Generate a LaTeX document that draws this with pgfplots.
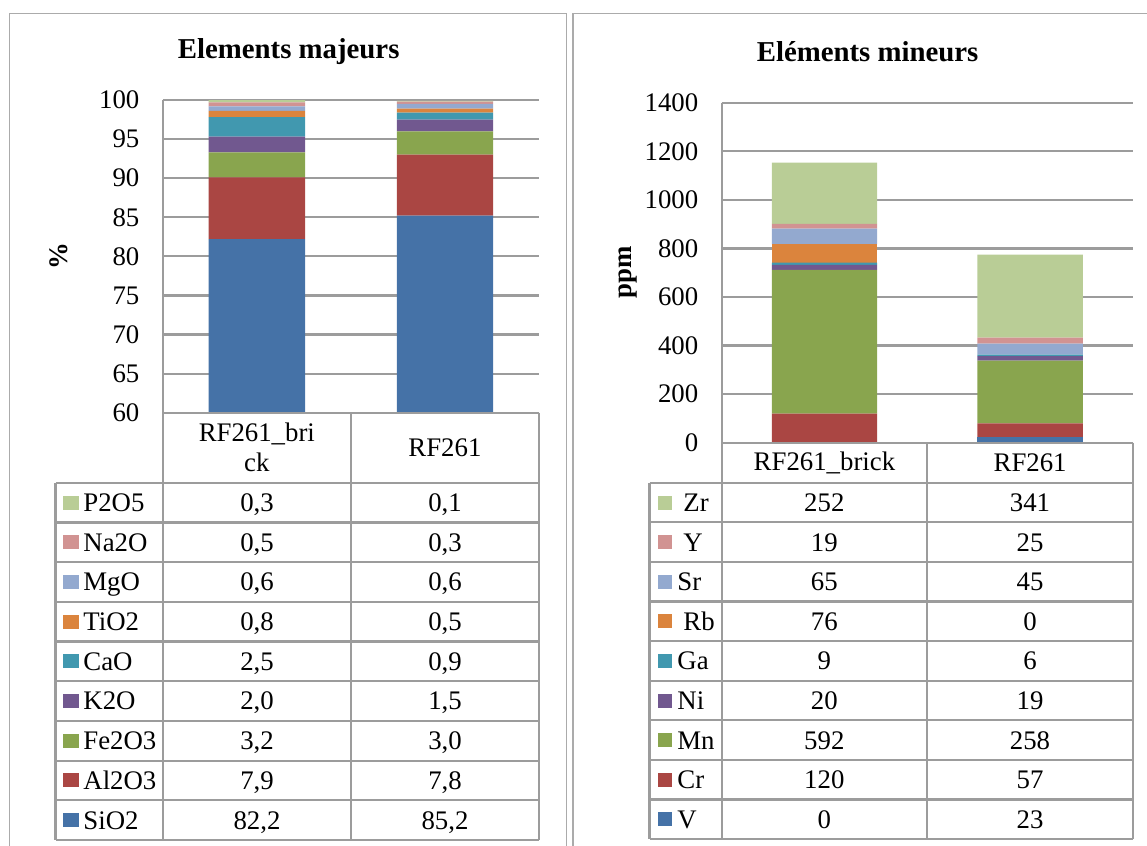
\documentclass[border=0pt]{standalone}
\usepackage{fontspec}
\setmainfont{Liberation Serif}
\usepackage{pgfplots}
\usepackage{pgfplotstable}
\pgfplotsset{compat=1.18}

% Excel 2007 series colours
\definecolor{s1}{HTML}{4572A7}
\definecolor{s2}{HTML}{AA4643}
\definecolor{s3}{HTML}{89A54E}
\definecolor{s4}{HTML}{71588F}
\definecolor{s5}{HTML}{4198AF}
\definecolor{s6}{HTML}{DB843D}
\definecolor{s7}{HTML}{93A9CF}
\definecolor{s8}{HTML}{D19392}
\definecolor{s9}{HTML}{B9CD96}
\definecolor{linegray}{HTML}{9C9C9C}

\pgfplotstableread{
x SiO2 Al2O3 Fe2O3 K2O CaO TiO2 MgO Na2O P2O5
0 82.2 7.9 3.2 2.0 2.5 0.8 0.6 0.5 0.3
1 85.2 7.8 3.0 1.5 0.9 0.5 0.6 0.3 0.1
}\majeurs

\pgfplotstableread{
x V Cr Mn Ni Ga Rb Sr Y Zr
0 0 120 592 20 9 76 65 19 252
1 23 57 258 19 6 0 45 25 341
}\mineurs

\pgfplotsset{panel/.style={
    scale only axis, anchor=south west,
    ybar stacked, bar width=0.512,
    xmin=-0.5, xmax=1.5, xtick={0,1},
    enlargelimits=false,
    axis x line*=bottom, axis y line*=left,
    axis line style={-, linegray, line width=1.1pt},
    ymajorgrids, grid style={linegray, line width=1.1pt},
    major tick length=0pt,
    tick label style={font=\fontsize{13.4}{15}\selectfont},
    yticklabel style={anchor=east, inner sep=0pt, xshift=-11.5pt},
    xticklabel style={anchor=center, align=center, inner sep=0pt},
    /pgf/number format/assume math mode=true,
    /pgf/number format/1000 sep={},
    ylabel style={font=\fontsize{13.4}{15}\selectfont\bfseries, anchor=center},
  }}

% table row helpers: index, colour, name, value 1, value 2
\newcommand{\majrow}[5]{%
  \fill[#2] (63,{482.7+39.7*(#1+0.5)-7}) rectangle ++(15.5,14);
  \node[anchor=base west] at (83,{482.7+39.7*(#1+0.5)+8.9}) {#3};
  \node[anchor=base] at (257,{482.7+39.7*(#1+0.5)+8.9}) {#4};
  \node[anchor=base] at (445,{482.7+39.7*(#1+0.5)+8.9}) {#5};}
\newcommand{\minrow}[6]{% index, colour, name offset, name, v1, v2
  \fill[#2] (658,{482.7+39.6*(#1+0.5)-7}) rectangle ++(14,14);
  \node[anchor=base west] at ({677+#3},{482.7+39.6*(#1+0.5)+8.9}) {#4};
  \node[anchor=base] at (824.3,{482.7+39.6*(#1+0.5)+8.9}) {#5};
  \node[anchor=base] at (1030,{482.7+39.6*(#1+0.5)+8.9}) {#6};}

\begin{document}
\begin{tikzpicture}
\useasboundingbox (0,0) rectangle (573.5pt,-423pt);

% Elements majeurs
\begin{axis}[panel, at={(81.4pt,-206.35pt)}, width=188.1pt, height=156.35pt,
    ymin=60, ymax=100, ytick={60,65,...,100},
    ylabel={\%}, ylabel style={at={(axis description cs:-0.276,0.5)}},
    xticklabels={{RF261\_bri\\ck},{RF261}},
    xticklabel style={yshift=-17.5pt}]
\addplot[fill=s1, draw=none] table[x=x, y=SiO2] {\majeurs};
\addplot[fill=s2, draw=none] table[x=x, y=Al2O3] {\majeurs};
\addplot[fill=s3, draw=none] table[x=x, y=Fe2O3] {\majeurs};
\addplot[fill=s4, draw=none] table[x=x, y=K2O] {\majeurs};
\addplot[fill=s5, draw=none] table[x=x, y=CaO] {\majeurs};
\addplot[fill=s6, draw=none] table[x=x, y=TiO2] {\majeurs};
\addplot[fill=s7, draw=none] table[x=x, y=MgO] {\majeurs};
\addplot[fill=s8, draw=none] table[x=x, y=Na2O] {\majeurs};
\addplot[fill=s9, draw=none] table[x=x, y=P2O5] {\majeurs};
\end{axis}

% Elements mineurs
\begin{axis}[panel, at={(360.8pt,-221.35pt)}, width=205.7pt, height=170pt,
    ymin=0, ymax=1400, ytick={0,200,...,1400},
    ylabel={ppm}, ylabel style={at={(axis description cs:-0.2275,0.5)}},
    xticklabels={{RF261\_brick},{RF261}},
    xticklabel style={yshift=-10pt}]
\addplot[fill=s1, draw=none] table[x=x, y=V] {\mineurs};
\addplot[fill=s2, draw=none] table[x=x, y=Cr] {\mineurs};
\addplot[fill=s3, draw=none] table[x=x, y=Mn] {\mineurs};
\addplot[fill=s4, draw=none] table[x=x, y=Ni] {\mineurs};
\addplot[fill=s5, draw=none] table[x=x, y=Ga] {\mineurs};
\addplot[fill=s6, draw=none] table[x=x, y=Rb] {\mineurs};
\addplot[fill=s7, draw=none] table[x=x, y=Sr] {\mineurs};
\addplot[fill=s8, draw=none] table[x=x, y=Y] {\mineurs};
\addplot[fill=s9, draw=none] table[x=x, y=Zr] {\mineurs};
\end{axis}

\begin{scope}[x=0.5pt, y=-0.5pt, every node/.style={font=\fontsize{13.4}{15}\selectfont, inner sep=0pt}]
  % panel frames
  \draw[linegray!85, line width=0.9pt] (9.5,870) -- (9.5,13.5) -- (566.5,13.5) -- (566.5,870);
  \draw[linegray!85, line width=0.9pt] (573,870) -- (573,13.5) -- (1160,13.5);
  % titles
  \node[font=\fontsize{14.4}{17}\selectfont\bfseries] at (288.7,51.7) {Elements majeurs};
  \node[font=\fontsize{14.4}{17}\selectfont\bfseries] at (867.6,51.7) {Eléments mineurs};

  % data table, left
  \begin{scope}[linegray, line width=1.1pt]
    \foreach \k in {0,...,9} \draw (55.5,{482.7+39.7*\k}) -- (539,{482.7+39.7*\k});
    \draw (163,412.7) -- (539,412.7);
    \draw (55.5,482.7) -- (55.5,840);
    \foreach \xx in {163,351,539} \draw (\xx,412.7) -- (\xx,840);
  \end{scope}
  \majrow{0}{s9}{P2O5}{0,3}{0,1}
  \majrow{1}{s8}{Na2O}{0,5}{0,3}
  \majrow{2}{s7}{MgO}{0,6}{0,6}
  \majrow{3}{s6}{TiO2}{0,8}{0,5}
  \majrow{4}{s5}{CaO}{2,5}{0,9}
  \majrow{5}{s4}{K2O}{2,0}{1,5}
  \majrow{6}{s3}{Fe2O3}{3,2}{3,0}
  \majrow{7}{s2}{Al2O3}{7,9}{7,8}
  \majrow{8}{s1}{SiO2}{82,2}{85,2}

  % data table, right
  \begin{scope}[linegray, line width=1.1pt]
    \foreach \k in {0,...,9} \draw (649.5,{482.7+39.6*\k}) -- (1133,{482.7+39.6*\k});
    \draw (721.6,442.7) -- (1133,442.7);
    \draw (649.5,482.7) -- (649.5,839);
    \foreach \xx in {721.6,927,1133} \draw (\xx,442.7) -- (\xx,839);
  \end{scope}
  \minrow{0}{s9}{6}{Zr}{252}{341}
  \minrow{1}{s8}{6}{Y}{19}{25}
  \minrow{2}{s7}{0}{Sr}{65}{45}
  \minrow{3}{s6}{6}{Rb}{76}{0}
  \minrow{4}{s5}{0}{Ga}{9}{6}
  \minrow{5}{s4}{0}{Ni}{20}{19}
  \minrow{6}{s3}{0}{Mn}{592}{258}
  \minrow{7}{s2}{0}{Cr}{120}{57}
  \minrow{8}{s1}{0}{V}{0}{23}
\end{scope}
\end{tikzpicture}
\end{document}
